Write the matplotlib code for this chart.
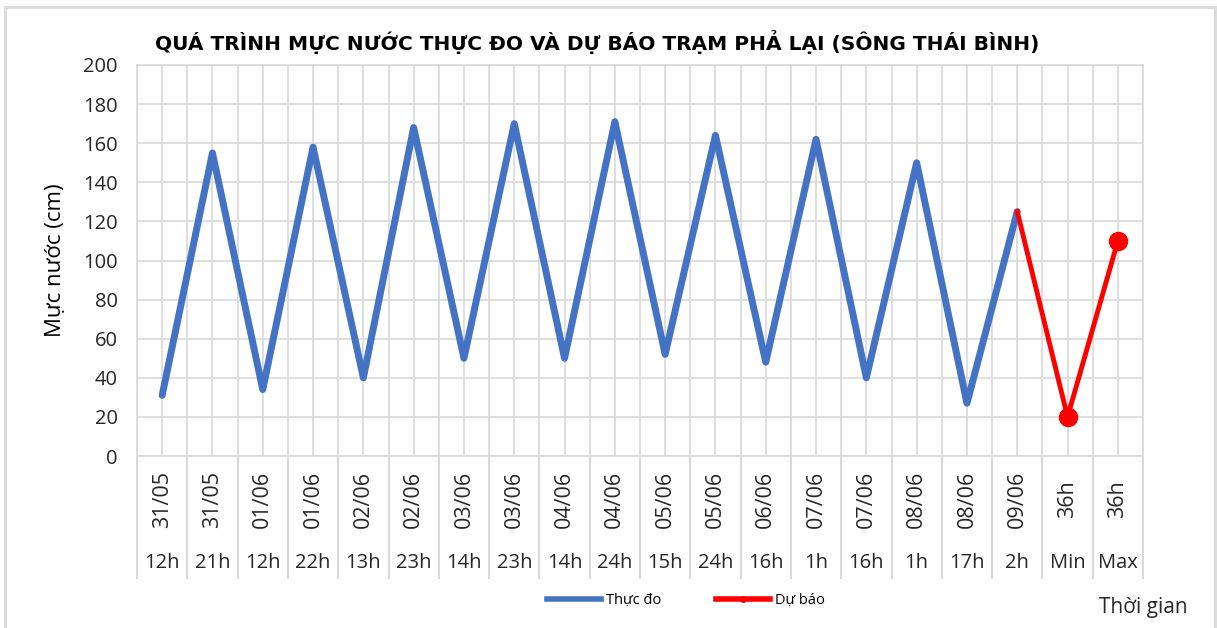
import numpy as np
import matplotlib
matplotlib.use("Agg")
import matplotlib.pyplot as plt
from matplotlib.lines import Line2D
from matplotlib.patches import Rectangle

plt.rcParams['font.family'] = ['Open Sans', 'DejaVu Sans']

# category labels (two levels)
dates = ["31/05", "31/05", "01/06", "01/06", "02/06", "02/06", "03/06", "03/06",
         "04/06", "04/06", "05/06", "05/06", "06/06", "07/06", "07/06", "08/06",
         "08/06", "09/06", "36h", "36h"]
hours = ["12h", "21h", "12h", "22h", "13h", "23h", "14h", "23h", "14h", "24h",
         "15h", "24h", "16h", "1h", "16h", "1h", "17h", "2h", "Min", "Max"]

# observed water level (cm)
observed = [31, 155, 34, 158, 40, 168, 50, 170, 50, 171,
            52, 164, 48, 162, 40, 150, 27, 125]
# forecast: starts at last observation, then min / max in 36h
forecast_idx = [17, 18, 19]
forecast = [125, 20, 110]

fig = plt.figure(figsize=(12.17, 6.28), dpi=100)

# outer chart border
fig.patches.append(Rectangle((5 / 1217, -0.01), 1210 / 1217, 1 - 7 / 628 + 0.01,
                             transform=fig.transFigure, fill=False,
                             edgecolor="#d9d9d9", linewidth=2))

ax = fig.add_axes([137 / 1217, 1 - 456 / 628, 1006 / 1217, 391 / 628])

n = len(dates)
x = np.arange(n)

ax.plot(x[:len(observed)], observed, color="#4472c4", linewidth=5,
        solid_capstyle="round", solid_joinstyle="round", zorder=3)
ax.plot(forecast_idx, forecast, color="#ff0000", linewidth=3.5, zorder=4)
ax.plot(forecast_idx[1:], forecast[1:], "o", color="#ff0000",
        markersize=13, zorder=5)

ax.set_xlim(-0.5, n - 0.5)
ax.set_ylim(0, 200)
ax.set_yticks(np.arange(0, 201, 20))
ax.tick_params(axis="y", labelsize=14.5, length=0, pad=14, colors="#262626")

ax.set_xticks(np.arange(-0.5, n, 0.5))
ax.set_xticklabels([])
ax.tick_params(axis="x", length=0)
ax.grid(True, color="#d9d9d9", linewidth=1.2)
ax.set_axisbelow(True)
for s in ax.spines.values():
    s.set_color("#d9d9d9")
    s.set_linewidth(1.2)

trans = ax.get_xaxis_transform()
# category separators in the label area
label_bottom = -(578 - 456) / 391
for b in np.arange(-0.5, n, 1):
    ax.plot([b, b], [0, label_bottom], color="#d9d9d9", linewidth=1.5,
            transform=trans, clip_on=False)

for i in range(n):
    ax.text(i, -(499 - 456) / 391, dates[i], rotation=90, ha="center",
            va="center", fontsize=15.5, color="#262626", transform=trans)
    ax.text(i, -(563 - 456) / 391, hours[i], ha="center", va="center",
            fontsize=14.5, color="#262626", transform=trans)

ax.set_ylabel("Mực nước (cm)", fontsize=16, color="#000000", labelpad=12)

fig.text(597 / 1217, 1 - 42 / 628,
         "QUÁ TRÌNH MỰC NƯỚC THỰC ĐO VÀ DỰ BÁO TRẠM PHẢ LẠI (SÔNG THÁI BÌNH)",
         ha="center", va="center", fontsize=14.5, fontweight="bold",
         family=["Liberation Sans Narrow", "DejaVu Sans"])

fig.text(1143 / 1217, 1 - 607 / 628, "Thời gian", ha="center", va="center",
         fontsize=15, color="#262626")

handles = [Line2D([], [], color="#4472c4", linewidth=4),
           Line2D([], [], color="#ff0000", linewidth=4, marker="o",
                  markersize=4)]
fig.legend(handles, ["Thực đo", "Dự báo"], loc="center",
           bbox_to_anchor=(686 / 1217, 1 - 601 / 628), ncol=2, frameon=False,
           fontsize=10.5, handlelength=3.7, handletextpad=0.3, columnspacing=3.8)

fig.savefig("out.png", dpi=100)
